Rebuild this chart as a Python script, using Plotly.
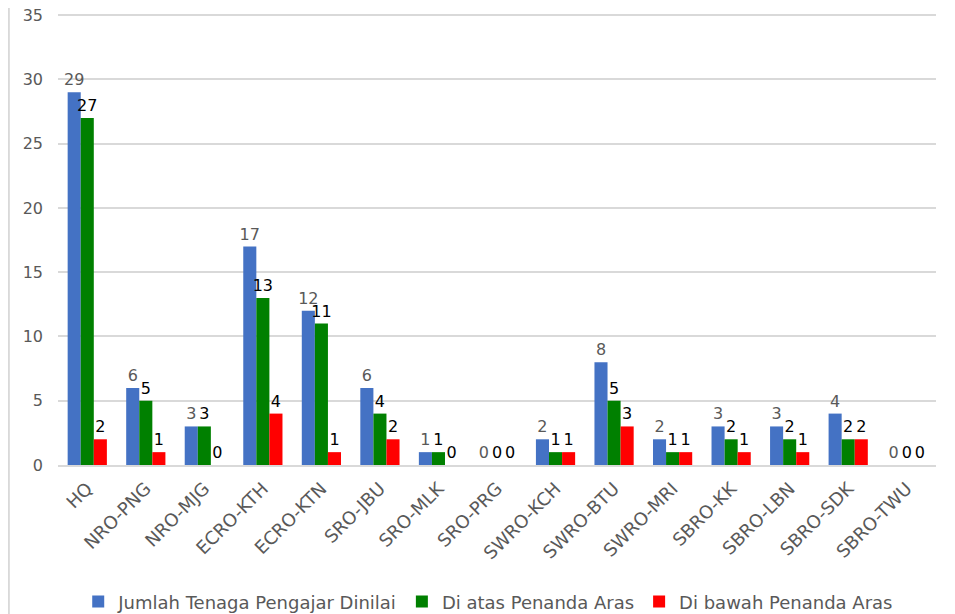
import plotly.graph_objects as go

categories = ['HQ', 'NRO-PNG', 'NRO-MJG', 'ECRO-KTH', 'ECRO-KTN', 'SRO-JBU', 'SRO-MLK',
              'SRO-PRG', 'SWRO-KCH', 'SWRO-BTU', 'SWRO-MRI', 'SBRO-KK', 'SBRO-LBN',
              'SBRO-SDK', 'SBRO-TWU']
dinilai = [29, 6, 3, 17, 12, 6, 1, 0, 2, 8, 2, 3, 3, 4, 0]
di_atas = [27, 5, 3, 13, 11, 4, 1, 0, 1, 5, 1, 2, 2, 2, 0]
di_bawah = [2, 1, 0, 4, 1, 2, 0, 0, 1, 3, 1, 1, 1, 2, 0]

FONT = 'DejaVu Sans'
series = [
    ('Jumlah Tenaga Pengajar Dinilai', dinilai, '#4472C4', '#595959'),
    ('Di atas Penanda Aras', di_atas, '#008000', '#000000'),
    ('Di bawah Penanda Aras', di_bawah, '#FF0000', '#000000'),
]

fig = go.Figure()
for name, vals, color, tcolor in series:
    fig.add_trace(go.Bar(
        name=name, x=categories, y=vals,
        marker=dict(color=color, line=dict(width=0)),
        text=[str(v) for v in vals], textposition='outside',
        textfont=dict(family=FONT, size=16, color=tcolor),
        constraintext='none', cliponaxis=False,
    ))

# page has an 8px body margin, so the figure is a bit smaller than the window
fig.update_layout(
    barmode='group', bargap=0.33, bargroupgap=0,
    width=947, height=606,
    paper_bgcolor='white', plot_bgcolor='white',
    margin=dict(l=50, r=19, t=2, b=149, autoexpand=False),
    font=dict(family=FONT, color='#595959'),
    legend=dict(orientation='h', x=0.49, xanchor='center', y=-0.26, yanchor='top',
                font=dict(family=FONT, size=18, color='#595959'), itemwidth=30,
                traceorder='normal'),
    xaxis=dict(tickangle=-45, tickfont=dict(size=18, color='#595959'),
               showline=True, linecolor='#d9d9d9', linewidth=2, ticks='',
               ticklabelstandoff=4, automargin=False),
    yaxis=dict(range=[0, 35.4], dtick=5, gridcolor='#d9d9d9', gridwidth=1.5,
               zeroline=False, tickfont=dict(size=16, color='#595959'),
               ticks='', ticklabelstandoff=14, ticklabeloverflow='allow',
               automargin=False),
    shapes=[dict(type='line', xref='paper', yref='paper', x0=-0.056, x1=-0.056,
                 y0=-1, y1=2, line=dict(color='#d9d9d9', width=2))],
)

fig.write_html('out.html')
